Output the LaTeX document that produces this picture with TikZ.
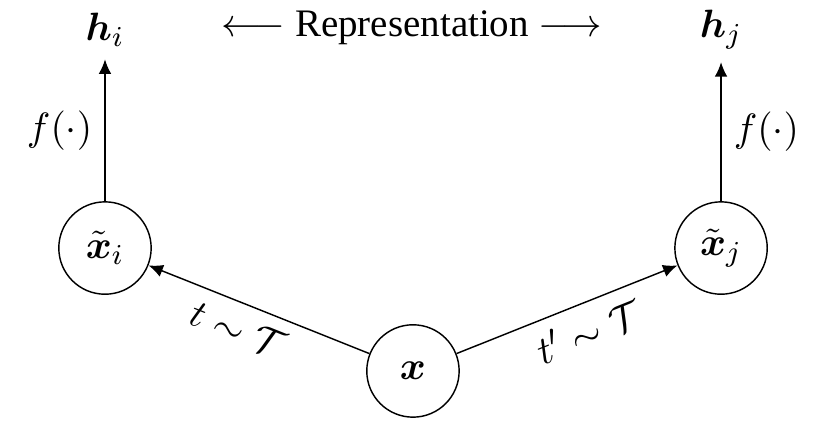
\documentclass[tikz,border=0pt]{standalone}
\usepackage{amsmath,amssymb}
\usepackage[no-math]{fontspec}
\setmainfont{Liberation Serif}
\usetikzlibrary{arrows.meta}
\begin{document}
\begin{tikzpicture}[>={Latex[length=4pt,width=3.5pt]},
 every node/.style={font=\fontsize{10.8}{13}\selectfont},
 view/.style={draw,circle,minimum size=0.9cm,inner sep=0pt}]
\useasboundingbox (0,0) rectangle (8,4.122);
\node[view] (x) at (4.024,0.507) {$\boldsymbol{x}$};
\node[view] (xi) at (1.023,1.705) {$\tilde{\boldsymbol{x}}_i$};
\node[view] (xj) at (7.026,1.705) {$\tilde{\boldsymbol{x}}_j$};
\node (hi) at (1.023,3.83) {$\boldsymbol{h}_i$};
\node (hj) at (7.026,3.83) {$\boldsymbol{h}_j$};
\node (rep) at (4.015,3.85) {$\longleftarrow$ Representation $\longrightarrow$};
\draw[->] (x) -- node[below,sloped,pos=0.55] {$t\sim\mathcal{T}$} (xi);
\draw[->] (x) -- node[below,sloped,pos=0.55] {$t'\sim\mathcal{T}$} (xj);
\draw[->] (xi) -- node[left] {$f(\cdot)$} (hi);
\draw[->] (xj) -- node[right] {$f(\cdot)$} (hj);
\end{tikzpicture}
\end{document}
